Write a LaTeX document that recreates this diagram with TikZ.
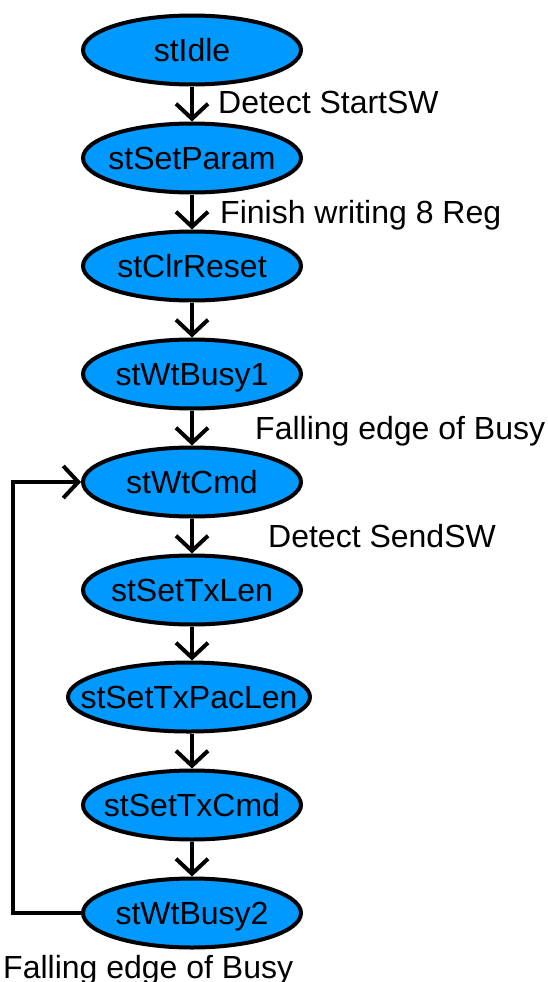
\documentclass[tikz,border=0pt]{standalone}
\usepackage{fontspec}
\setmainfont{Liberation Sans}
\usetikzlibrary{shapes.geometric,arrows.meta}
\definecolor{stateblue}{RGB}{0,153,255}
\tikzset{
  statenode/.style={ellipse, draw=black, line width=4pt, fill=stateblue,
    minimum width=218pt, minimum height=69pt, inner sep=0pt,
    font=\fontsize{32}{38}\selectfont, text height=23pt, text depth=0pt},
  condlabel/.style={anchor=west, inner sep=0pt,
    font=\fontsize{32}{38}\selectfont, text height=23pt, text depth=0pt},
  trans/.style={line width=4pt, -{Straight Barb[length=15pt,width=32pt]}}
}
\begin{document}
\begin{tikzpicture}[x=1pt,y=-1pt]
  \useasboundingbox (0,0) rectangle (547,982);

  % states
  \node[statenode] (idle)  at (192,50)  {\makebox[0pt]{stIdle}};
  \node[statenode] (param) at (192,158) {\makebox[0pt]{stSetParam}};
  \node[statenode] (clr)   at (192,266) {\makebox[0pt]{stClrReset}};
  \node[statenode] (busy1) at (192,374) {\makebox[0pt]{stWtBusy1}};
  \node[statenode] (cmd)   at (192,482) {\makebox[0pt]{stWtCmd}};
  \node[statenode] (txlen) at (192,590) {\makebox[0pt]{stSetTxLen}};
  \node[statenode, minimum width=242pt] (pac) at (189,697) {\makebox[0pt]{stSetTxPacLen}};
  \node[statenode] (txcmd) at (192,805) {\makebox[0pt]{stSetTxCmd}};
  \node[statenode] (busy2) at (192,913) {\makebox[0pt]{stWtBusy2}};

  % transition conditions
  \node[condlabel] (c1) at (218,102) {Detect StartSW};
  \node[condlabel] (c2) at (220,212) {Finish writing 8 Reg};
  \node[condlabel] (c3) at (255,428) {Falling edge of Busy};
  \node[condlabel] (c4) at (268,536) {Detect SendSW};
  \node[condlabel] (c5) at (3,967)   {Falling edge of Busy};

  % transitions
  \draw[trans] (idle)  -- (param);
  \draw[trans] (param) -- (clr);
  \draw[trans] (clr)   -- (busy1);
  \draw[trans] (busy1) -- (cmd);
  \draw[trans] (cmd)   -- (txlen);
  \draw[trans] (txlen) -- (pac.north -| txlen);
  \draw[trans] (pac.south -| txcmd) -- (txcmd);
  \draw[trans] (txcmd) -- (busy2);

  % return loop
  \coordinate (loopcorner) at (13,913);
  \draw[trans] (busy2.west) -- (loopcorner) |- (cmd.west);
\end{tikzpicture}
\end{document}
